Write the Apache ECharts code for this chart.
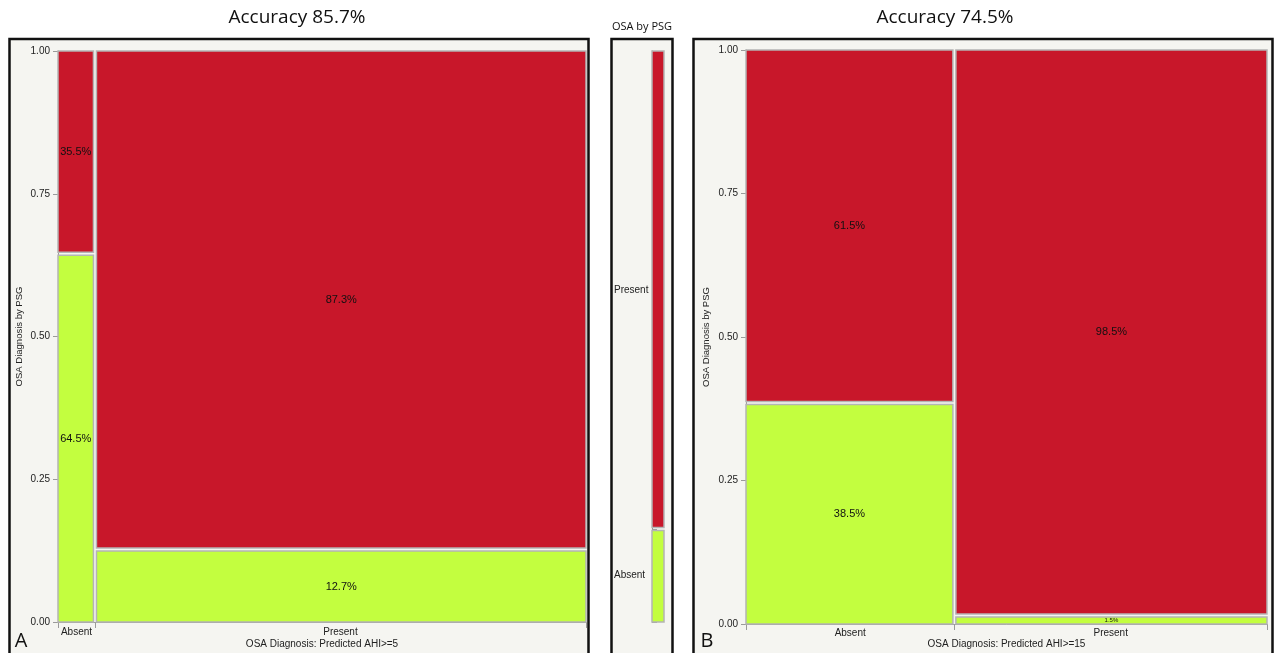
<!DOCTYPE html>
<html>
<head>
<meta charset="utf-8">
<title>OSA mosaic plots</title>
<script src="https://cdn.jsdelivr.net/npm/echarts@6/dist/echarts.min.js"></script>
<style>
  html, body { margin: 0; padding: 0; background: #ffffff; }
  #chart { width: 1276px; height: 653px; }
</style>
</head>
<body>
<div id="chart"></div>
<script>
// Predicted diagnosis categories (columns) and PSG diagnosis (rows)
const predCats = ['Absent', 'Present'];
const psgCats = ['Absent', 'Present'];

// Panel A: predicted AHI >= 5
const colShareA = [7, 93];            // % of subjects per predicted column
const psgPresentA = [35.5, 87.3];     // % OSA present by PSG within each column
const psgAbsentA = [64.5, 12.7];      // % OSA absent by PSG within each column

// Panel B: predicted AHI >= 15
const colShareB = [40, 60];
const psgPresentB = [61.5, 98.5];
const psgAbsentB = [38.5, 1.5];

// Overall PSG split shown in the side legend bar (absent, present)
const psgOverall = [16.3, 83.7];

const yTicks = [0, 0.25, 0.5, 0.75, 1];
const titles = ['Accuracy 85.7%', 'Accuracy 74.5%'];
const panelTags = ['A', 'B'];
const xNames = ['OSA Diagnosis: Predicted AHI>=5', 'OSA Diagnosis: Predicted AHI>=15'];
const yName = 'OSA Diagnosis by PSG';
const legendTitle = 'OSA by PSG';

const RED = '#c8172a';
const GREEN = '#c3fe3f';
const CELL_EDGE = '#b4b4b4';
const FONT = '"Liberation Sans", Arial, sans-serif';

// Build mosaic cells: [x0, x1, y0, y1, pct, rowIndex]
function mosaicCells(shares, presentPct, absentPct) {
  const cells = [];
  let x = 0;
  shares.forEach((s, i) => {
    const x1 = x + s / 100;
    const a = absentPct[i] / 100;
    cells.push([x, x1, 0, a, absentPct[i], 0]);
    cells.push([x, x1, a, 1, presentPct[i], 1]);
    x = x1;
  });
  return cells;
}

function columnBounds(shares) {
  const b = [0];
  let acc = 0;
  shares.forEach(s => { acc += s / 100; b.push(Math.min(acc, 1)); });
  return b;
}
function centers(bounds) {
  const c = [];
  for (let i = 0; i < bounds.length - 1; i++) c.push((bounds[i] + bounds[i + 1]) / 2);
  return c;
}
function nameAt(cs, names) {
  return v => {
    let best = 0;
    cs.forEach((c, i) => { if (Math.abs(c - v) < Math.abs(cs[best] - v)) best = i; });
    return names[best];
  };
}

function makeRender(showLabels) {
  return function (params, api) {
    const x0v = api.value(0), x1v = api.value(1), y0v = api.value(2), y1v = api.value(3);
    const p0 = api.coord([x0v, y0v]);
    const p1 = api.coord([x1v, y1v]);
    let left = p0[0], right = p1[0], bottom = p0[1], top = p1[1];
    const g = 1.5;
    if (x0v > 0) left += g;
    if (x1v < 1) right -= g;
    if (y0v > 0) bottom -= g;
    if (y1v < 1) top += g;
    const h = bottom - top;
    const row = api.value(5);
    const el = {
      type: 'rect',
      shape: { x: left, y: top, width: right - left, height: h },
      style: { fill: row === 1 ? RED : GREEN, stroke: CELL_EDGE, lineWidth: 1.5 }
    };
    if (showLabels) {
      el.textContent = {
        style: {
          text: api.value(4).toFixed(1) + '%',
          fill: '#111',
          fontSize: h < 14 ? 6 : 11,
          fontFamily: FONT
        }
      };
      el.textConfig = { position: 'inside' };
    }
    return el;
  };
}

const boundsA = columnBounds(colShareA);
const boundsB = columnBounds(colShareB);
const centersA = centers(boundsA);
const centersB = centers(boundsB);
const legendBounds = columnBounds(psgOverall);
const legendCenters = centers(legendBounds);

function valueYAxis(gridIndex) {
  return {
    type: 'value', gridIndex, min: 0, max: 1, interval: 0.25,
    name: yName, nameLocation: 'middle', nameGap: 34, nameMoveOverlap: false,
    nameTextStyle: { fontSize: 9.5, color: '#222', fontFamily: FONT },
    axisLine: { show: true, lineStyle: { color: '#9a9a9a', width: 1 } },
    axisTick: { show: true, length: 5, lineStyle: { color: '#9a9a9a' } },
    axisLabel: { fontSize: 10, color: '#222', fontFamily: FONT, margin: 8,
                 formatter: v => v.toFixed(2) },
    splitLine: { show: false }
  };
}

function catXAxis(gridIndex, bounds, cs, name, gap, margin) {
  return {
    type: 'value', gridIndex, min: 0, max: 1,
    name, nameLocation: 'middle', nameGap: gap, nameMoveOverlap: false,
    nameTextStyle: { fontSize: 10, color: '#222', fontFamily: FONT },
    axisLine: { show: true, lineStyle: { color: '#9a9a9a', width: 1 } },
    axisTick: { show: true, length: 6, customValues: bounds, lineStyle: { color: '#9a9a9a' } },
    axisLabel: { fontSize: 10, color: '#222', fontFamily: FONT, margin,
                 customValues: cs, formatter: nameAt(cs, predCats) },
    splitLine: { show: false }
  };
}

const chart = echarts.init(document.getElementById('chart'), null, { renderer: 'canvas' });

const frames = [
  { x: 9.5, w: 579 },
  { x: 611.5, w: 61 },
  { x: 693.5, w: 579 }
];

const graphics = [];
frames.forEach(f => {
  graphics.push({
    type: 'rect', z: -10, silent: true,
    shape: { x: f.x, y: 39, width: f.w, height: 640 },
    style: { fill: '#f5f5f1', stroke: '#111', lineWidth: 2.5 }
  });
});
[[297, titles[0]], [945, titles[1]]].forEach(([x, t]) => {
  graphics.push({
    type: 'text', x, y: 18,
    style: { text: t, fontSize: 19, fontFamily: '"Open Sans", sans-serif', fill: '#111',
             align: 'center', verticalAlign: 'middle' }
  });
});
graphics.push({
  type: 'text', x: 642, y: 27,
  style: { text: legendTitle, fontSize: 11, fontFamily: '"Open Sans", sans-serif', fill: '#111',
           align: 'center', verticalAlign: 'middle' }
});
[[21, panelTags[0]], [707, panelTags[1]]].forEach(([x, t]) => {
  graphics.push({
    type: 'text', x, y: 641,
    style: { text: t, fontSize: 20, fontFamily: '"Open Sans", sans-serif', fill: '#111',
             align: 'center', verticalAlign: 'middle' }
  });
});

chart.setOption({
  animation: false,
  backgroundColor: '#ffffff',
  grid: [
    { left: 58, top: 51, width: 528, height: 571, outerBoundsMode: 'none', containLabel: false },
    { left: 652, top: 51, width: 12, height: 571, outerBoundsMode: 'none', containLabel: false },
    { left: 746, top: 50, width: 521, height: 574, outerBoundsMode: 'none', containLabel: false }
  ],
  xAxis: [
    catXAxis(0, boundsA, centersA, xNames[0], 17, 5),
    { type: 'value', gridIndex: 1, min: 0, max: 1, show: false },
    catXAxis(2, boundsB, centersB, xNames[1], 15, 4)
  ],
  yAxis: [
    valueYAxis(0),
    {
      type: 'value', gridIndex: 1, min: 0, max: 1, offset: 40,
      axisLine: { show: true, lineStyle: { color: '#8a8a8a', width: 1 } },
      axisTick: { show: true, inside: true, length: 5, customValues: legendBounds,
                  lineStyle: { color: '#9a9a9a' } },
      axisLabel: { inside: true, margin: 2, fontSize: 10, color: '#222', fontFamily: FONT,
                   customValues: legendCenters, formatter: nameAt(legendCenters, psgCats) },
      splitLine: { show: false }
    },
    Object.assign(valueYAxis(2), { nameGap: 35 })
  ],
  series: [
    {
      type: 'custom', xAxisIndex: 0, yAxisIndex: 0, clip: false,
      renderItem: makeRender(true),
      encode: { x: [0, 1], y: [2, 3] },
      data: mosaicCells(colShareA, psgPresentA, psgAbsentA)
    },
    {
      type: 'custom', xAxisIndex: 1, yAxisIndex: 1, clip: false,
      renderItem: makeRender(false),
      encode: { x: [0, 1], y: [2, 3] },
      data: mosaicCells([100], [psgOverall[1]], [psgOverall[0]])
    },
    {
      type: 'custom', xAxisIndex: 2, yAxisIndex: 2, clip: false,
      renderItem: makeRender(true),
      encode: { x: [0, 1], y: [2, 3] },
      data: mosaicCells(colShareB, psgPresentB, psgAbsentB)
    }
  ],
  graphic: graphics
});
</script>
</body>
</html>
